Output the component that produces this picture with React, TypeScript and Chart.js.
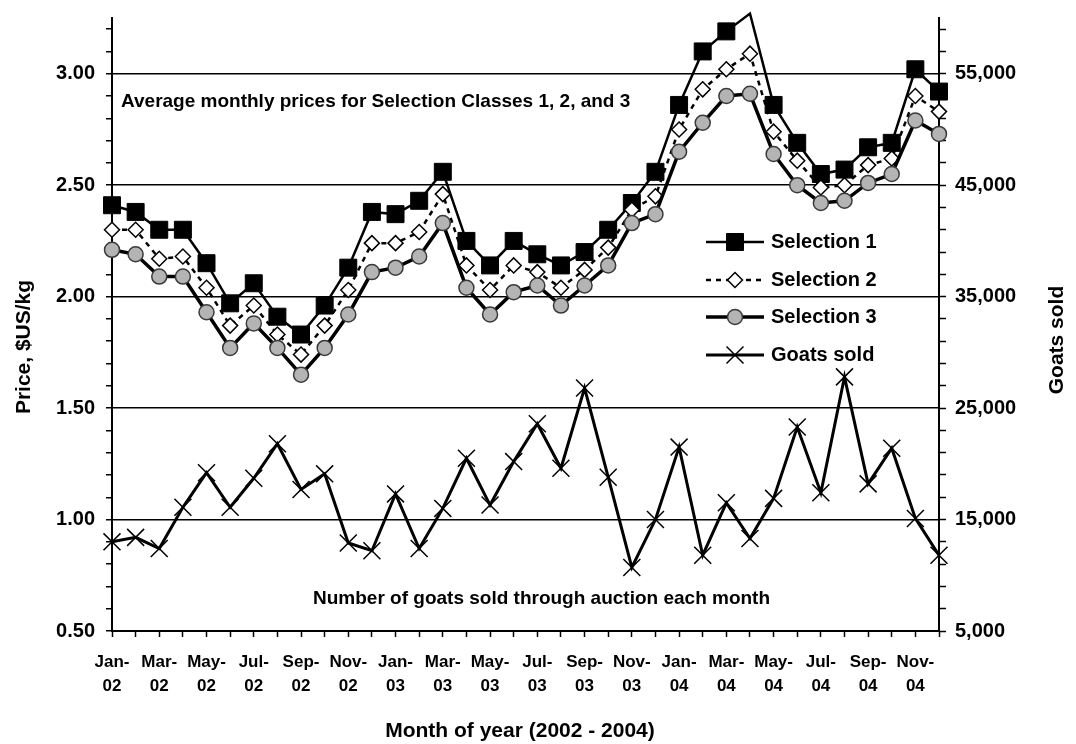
import { useEffect, useRef } from 'react';
import { Chart, registerables } from 'chart.js';

Chart.register(...registerables);

const FONT = "'Liberation Sans', Arial, Helvetica, sans-serif";
Chart.defaults.font.family = FONT;
Chart.defaults.color = '#000';

// Months of 2002-2004
const MONTHS = ['Jan', 'Feb', 'Mar', 'Apr', 'May', 'Jun', 'Jul', 'Aug', 'Sep', 'Oct', 'Nov', 'Dec'];
const YEARS = ['02', '03', '04'];
const CATEGORIES = YEARS.flatMap((y) => MONTHS.map((m) => `${m}-${y}`));

// Average monthly prices, $US/kg
const SELECTION_1 = [
  2.41, 2.38, 2.30, 2.30, 2.15, 1.97, 2.06, 1.91, 1.83, 1.96, 2.13, 2.38,
  2.37, 2.43, 2.56, 2.25, 2.14, 2.25, 2.19, 2.14, 2.20, 2.30, 2.42, 2.56,
  2.86, 3.10, 3.19, 3.27, 2.86, 2.69, 2.55, 2.57, 2.67, 2.69, 3.02, 2.92,
];
const SELECTION_2 = [
  2.30, 2.30, 2.17, 2.18, 2.04, 1.87, 1.96, 1.83, 1.74, 1.87, 2.03, 2.24,
  2.24, 2.29, 2.46, 2.14, 2.03, 2.14, 2.11, 2.04, 2.12, 2.22, 2.39, 2.45,
  2.75, 2.93, 3.02, 3.09, 2.74, 2.61, 2.49, 2.50, 2.59, 2.62, 2.90, 2.83,
];
const SELECTION_3 = [
  2.21, 2.19, 2.09, 2.09, 1.93, 1.77, 1.88, 1.77, 1.65, 1.77, 1.92, 2.11,
  2.13, 2.18, 2.33, 2.04, 1.92, 2.02, 2.05, 1.96, 2.05, 2.14, 2.33, 2.37,
  2.65, 2.78, 2.90, 2.91, 2.64, 2.50, 2.42, 2.43, 2.51, 2.55, 2.79, 2.73,
];
// Number of goats sold through auction each month
const GOATS_SOLD = [
  13000, 13400, 12400, 16100, 19200, 16100, 18700, 21800, 17700, 19100, 12900, 12200,
  17300, 12400, 16000, 20500, 16300, 20200, 23600, 19600, 26800, 18800, 10700, 15000,
  21500, 11800, 16500, 13300, 16900, 23300, 17400, 27800, 18200, 21400, 15100, 11800,
];

// Axis ranges and tick values
const PRICE_MIN = 0.5;
const PRICE_MAX = 3.25;
const PRICE_TICKS = [
  0.5, 0.6, 0.7, 0.8, 0.9, 1.0, 1.1, 1.2, 1.3, 1.4, 1.5, 1.6, 1.7, 1.8,
  1.9, 2.0, 2.1, 2.2, 2.3, 2.4, 2.5, 2.6, 2.7, 2.8, 2.9, 3.0, 3.1, 3.2,
];
const GOATS_MIN = 5000;
const GOATS_MAX = 60000;
const GOATS_TICKS = [
  5000, 7000, 9000, 11000, 13000, 15000, 17000, 19000, 21000, 23000, 25000, 27000, 29000, 31000,
  33000, 35000, 37000, 39000, 41000, 43000, 45000, 47000, 49000, 51000, 53000, 55000, 57000, 59000,
];

// Texts
const TITLE_PRICE = 'Price, $US/kg';
const TITLE_GOATS = 'Goats sold';
const TITLE_MONTH = 'Month of year (2002 - 2004)';
const NOTE_PRICES = 'Average monthly prices for Selection Classes 1, 2, and 3';
const NOTE_GOATS = 'Number of goats sold through auction each month';

type Marker = 'rect' | 'rectRot' | 'circle' | 'crossRot';
interface SeriesStyle {
  label: string;
  data: number[];
  axis: 'y' | 'y1';
  lineWidth: number;
  dash: number[];
  marker: Marker;
  radius: number;
  fill: string;
  stroke: string;
  markerWidth: number;
}

const SERIES: SeriesStyle[] = [
  { label: 'Selection 1', data: SELECTION_1, axis: 'y', lineWidth: 2.5, dash: [], marker: 'rect', radius: 12, fill: '#000', stroke: '#000', markerWidth: 1 },
  { label: 'Selection 2', data: SELECTION_2, axis: 'y', lineWidth: 2.5, dash: [5, 5], marker: 'rectRot', radius: 7.5, fill: '#fff', stroke: '#000', markerWidth: 1.5 },
  { label: 'Selection 3', data: SELECTION_3, axis: 'y', lineWidth: 3.5, dash: [], marker: 'circle', radius: 7.5, fill: '#b4b4b4', stroke: '#3a3a3a', markerWidth: 1.5 },
  { label: 'Goats sold', data: GOATS_SOLD, axis: 'y1', lineWidth: 3, dash: [], marker: 'crossRot', radius: 12, fill: '#000', stroke: '#000', markerWidth: 1.5 },
];

function drawMarker(ctx: CanvasRenderingContext2D, s: SeriesStyle, x: number, y: number) {
  const r = s.radius;
  ctx.save();
  ctx.setLineDash([]);
  ctx.beginPath();
  if (s.marker === 'rect') {
    const h = r * Math.SQRT1_2;
    ctx.rect(x - h, y - h, 2 * h, 2 * h);
  } else if (s.marker === 'rectRot') {
    ctx.moveTo(x - r, y);
    ctx.lineTo(x, y - r);
    ctx.lineTo(x + r, y);
    ctx.lineTo(x, y + r);
    ctx.closePath();
  } else if (s.marker === 'circle') {
    ctx.arc(x, y, r, 0, Math.PI * 2);
  } else {
    const d = r * Math.SQRT1_2;
    ctx.moveTo(x - d, y - d);
    ctx.lineTo(x + d, y + d);
    ctx.moveTo(x - d, y + d);
    ctx.lineTo(x + d, y - d);
  }
  if (s.marker !== 'crossRot') {
    ctx.fillStyle = s.fill;
    ctx.fill();
  }
  ctx.lineWidth = s.markerWidth;
  ctx.strokeStyle = s.stroke;
  ctx.stroke();
  ctx.restore();
}

function rotatedText(ctx: CanvasRenderingContext2D, text: string, x: number, y: number) {
  ctx.save();
  ctx.translate(x, y);
  ctx.rotate(-Math.PI / 2);
  ctx.textAlign = 'center';
  ctx.textBaseline = 'middle';
  ctx.fillText(text, 0, 0);
  ctx.restore();
}

const LEGEND = { lineStart: 706, lineEnd: 764, marker: 735, text: 771, rows: [242, 280, 317, 355] };

const textPlugin = {
  id: 'chartTexts',
  afterDraw(chart: Chart) {
    const ctx = chart.ctx;
    ctx.save();
    ctx.fillStyle = '#000';

    // axis titles
    ctx.font = `bold 21px ${FONT}`;
    rotatedText(ctx, TITLE_PRICE, 24, 347);
    rotatedText(ctx, TITLE_GOATS, 1057, 340);
    ctx.textAlign = 'center';
    ctx.textBaseline = 'middle';
    ctx.fillText(TITLE_MONTH, 520, 731);

    // notes inside the plot
    ctx.font = `bold 19px ${FONT}`;
    ctx.textAlign = 'left';
    ctx.fillText(NOTE_PRICES, 121, 102);
    ctx.fillText(NOTE_GOATS, 313, 599);

    // legend
    ctx.font = `bold 20px ${FONT}`;
    SERIES.forEach((s, i) => {
      const y = LEGEND.rows[i];
      ctx.save();
      ctx.beginPath();
      ctx.setLineDash(s.dash);
      ctx.lineWidth = s.lineWidth;
      ctx.strokeStyle = '#000';
      ctx.moveTo(LEGEND.lineStart, y);
      ctx.lineTo(LEGEND.lineEnd, y);
      ctx.stroke();
      ctx.restore();
      drawMarker(ctx, s, LEGEND.marker, y);
      ctx.fillStyle = '#000';
      ctx.textAlign = 'left';
      ctx.textBaseline = 'middle';
      ctx.fillText(s.label, LEGEND.text, y);
    });
    ctx.restore();
  },
};

const isMajorPrice = (v: number) => Math.round(v * 10) % 5 === 0;
const isMajorGoats = (v: number) => (v - GOATS_MIN) % 10000 === 0;

// fixed scale sizes so the plot area sits exactly where wanted
const fixWidth = (w: number) => (s: any) => {
  s.width = w;
  s.paddingTop = 0;
  s.paddingBottom = 0;
};
const fixHeight = (h: number) => (s: any) => {
  s.height = h;
  s.paddingLeft = 0;
  s.paddingRight = 0;
};

export default function App() {
  const canvasRef = useRef<HTMLCanvasElement>(null);

  useEffect(() => {
    const canvas = canvasRef.current;
    if (!canvas) return;

    const datasets = SERIES.map((s, i) => ({
      label: s.label,
      data: s.data,
      yAxisID: s.axis,
      borderColor: '#000',
      borderWidth: s.lineWidth,
      borderDash: s.dash,
      pointStyle: s.marker,
      pointRadius: (c: any) => (s.axis === 'y' && c.raw > PRICE_MAX ? 0 : s.radius),
      pointBackgroundColor: s.fill,
      pointBorderColor: s.stroke,
      pointBorderWidth: s.markerWidth,
      tension: 0,
      fill: false,
      clip: false as const,
      order: SERIES.length - i,
    }));

    const chart = new Chart(canvas, {
      type: 'line',
      data: { labels: CATEGORIES, datasets: datasets as any },
      plugins: [textPlugin as any],
      options: {
        animation: false,
        responsive: false,
        devicePixelRatio: 1,
        events: [],
        layout: { padding: { top: 18, left: 0, right: 0, bottom: 0 } },
        plugins: { legend: { display: false }, tooltip: { enabled: false }, title: { display: false } },
        scales: {
          x: {
            type: 'category',
            offset: false,
            grid: { display: true, drawOnChartArea: false, drawTicks: true, tickLength: 6, tickColor: '#000', tickWidth: 1.5 },
            border: { display: true, color: '#000', width: 2 },
            ticks: {
              autoSkip: false,
              maxRotation: 0,
              minRotation: 0,
              padding: 13,
              color: '#000',
              font: { family: FONT, size: 17, weight: 'bold', lineHeight: '24px' as any },
              callback: (_v: any, i: number) => {
                if (i % 2 !== 0) return '';
                const [m, y] = CATEGORIES[i].split('-');
                return [`${m}-`, y];
              },
            },
            afterFit: fixHeight(113),
          },
          y: {
            type: 'linear',
            position: 'left',
            min: PRICE_MIN,
            max: PRICE_MAX,
            afterBuildTicks: (s: any) => { s.ticks = PRICE_TICKS.map((value) => ({ value })); },
            grid: {
              color: (c: any) => (isMajorPrice(c.tick.value) ? '#000' : 'rgba(0,0,0,0)'),
              lineWidth: 1.5,
              drawTicks: true,
              tickLength: 6,
              tickColor: '#000',
              tickWidth: 1.5,
            },
            border: { display: true, color: '#000', width: 2 },
            ticks: {
              autoSkip: false,
              padding: 11,
              color: '#000',
              font: { family: FONT, size: 20, weight: 'bold' },
              callback: (v: any) => (isMajorPrice(Number(v)) ? Number(v).toFixed(2) : ''),
            },
            afterFit: fixWidth(112),
          },
          y1: {
            type: 'linear',
            position: 'right',
            min: GOATS_MIN,
            max: GOATS_MAX,
            afterBuildTicks: (s: any) => { s.ticks = GOATS_TICKS.map((value) => ({ value })); },
            grid: { drawOnChartArea: false, drawTicks: true, tickLength: 7, tickColor: '#000', tickWidth: 1.5 },
            border: { display: true, color: '#000', width: 2 },
            ticks: {
              autoSkip: false,
              padding: 9,
              color: '#000',
              font: { family: FONT, size: 20, weight: 'bold' },
              callback: (v: any) => (isMajorGoats(Number(v)) ? Number(v).toLocaleString('en-US') : ''),
            },
            afterFit: fixWidth(137),
          },
        },
      } as any,
    });

    return () => chart.destroy();
  }, []);

  return (
    <div style={{ position: 'fixed', left: 0, top: 0, width: 1076, height: 744, background: '#fff' }}>
      <canvas ref={canvasRef} width={1076} height={744} style={{ display: 'block', width: 1076, height: 744 }} />
    </div>
  );
}
